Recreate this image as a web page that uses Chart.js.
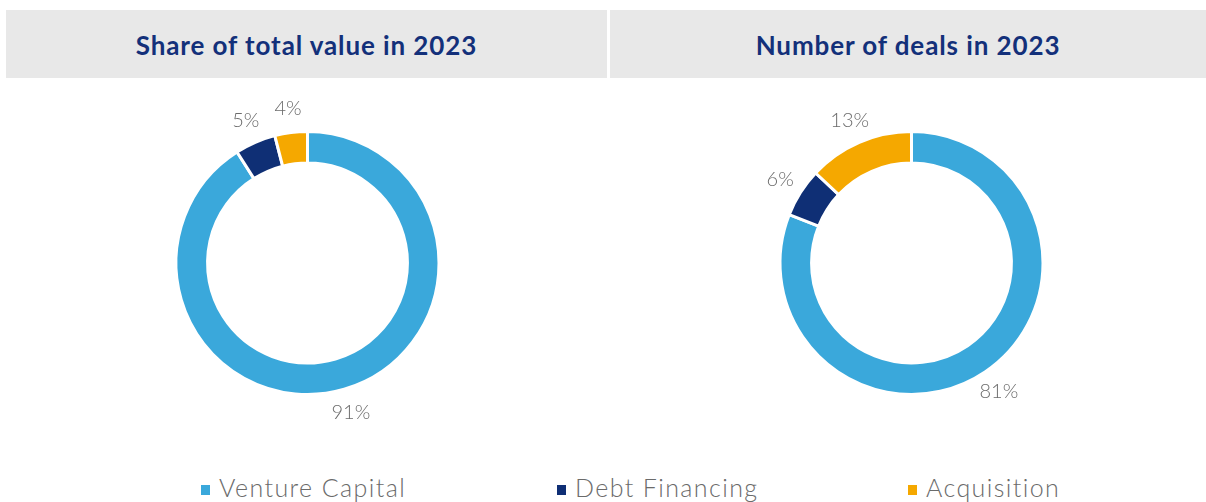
<!DOCTYPE html>
<html lang="en">
<head>
    <meta charset="UTF-8">
    <title>Share of value and deals 2023</title>
    <script src="https://cdn.jsdelivr.net/npm/chart.js"></script>
    <style>
        html, body { margin: 0; padding: 0; background: #fff; width: 1206px; height: 502px; overflow: hidden; }
        body { position: relative; font-family: Lato, "Open Sans", sans-serif; }
        .head { position: absolute; top: 10px; height: 68px; background: #e8e8e8; color: #13307a;
                font-weight: 700; font-size: 26px; letter-spacing: 0.9px; line-height: 70px; text-align: center; }
        #h1 { left: 6px; width: 601px; }
        #h2 { left: 610px; width: 596px; }
        canvas { position: absolute; top: 93px; }
        #c1 { left: 7px; }
        #c2 { left: 611px; }
        #legend { position: absolute; top: 472px; left: 0; width: 1206px; height: 40px; }
        .item { position: absolute; top: 0; font-size: 25px; font-weight: 300; letter-spacing: 1.4px; color: #6b6b6b; white-space: nowrap; }
        .item span { display: inline-block; width: 9px; height: 10px; margin-right: 9px; vertical-align: 2px; }
    </style>
</head>
<body>
    <div class="head" id="h1">Share of total value in 2023</div>
    <div class="head" id="h2">Number of deals in 2023</div>
    <canvas id="c1" width="601" height="340"></canvas>
    <canvas id="c2" width="601" height="340"></canvas>
    <div id="legend"></div>

    <script>
        const categories = ['Venture Capital', 'Debt Financing', 'Acquisition'];
        const valueShare = [91, 5, 4];
        const dealShare = [81, 6, 13];
        const colors = ['#3aa8db', '#0f2f75', '#f5a800'];
        const legendX = [201, 557, 908];

        // labels drawn outside each slice
        const outsideLabels = {
            id: 'outsideLabels',
            afterDatasetsDraw(chart) {
                const ctx = chart.ctx;
                const meta = chart.getDatasetMeta(0);
                const data = chart.data.datasets[0].data;
                ctx.save();
                ctx.font = '300 20px Lato, "Open Sans", sans-serif';
                ctx.fillStyle = '#6b6b6b';
                ctx.textAlign = 'center';
                ctx.textBaseline = 'middle';
                meta.data.forEach((arc, i) => {
                    const p = arc.getProps(['x', 'y', 'startAngle', 'endAngle', 'outerRadius'], true);
                    const mid = (p.startAngle + p.endAngle) / 2;
                    const r = p.outerRadius + 24;
                    ctx.fillText(data[i] + '%', p.x + Math.cos(mid) * r, p.y + Math.sin(mid) * r);
                });
                ctx.restore();
            }
        };

        function makeChart(id, values) {
            new Chart(document.getElementById(id), {
                type: 'doughnut',
                data: {
                    labels: categories,
                    datasets: [{
                        data: values,
                        backgroundColor: colors,
                        borderColor: '#ffffff',
                        borderWidth: 3
                    }]
                },
                options: {
                    responsive: false,
                    animation: false,
                    cutout: '76%',
                    layout: { padding: { top: 37, bottom: 37 } },
                    plugins: {
                        legend: { display: false },
                        tooltip: { enabled: false }
                    }
                },
                plugins: [outsideLabels]
            });
        }

        makeChart('c1', valueShare);
        makeChart('c2', dealShare);

        const legend = document.getElementById('legend');
        categories.forEach((name, i) => {
            const el = document.createElement('div');
            el.className = 'item';
            el.style.left = legendX[i] + 'px';
            el.innerHTML = '<span style="background:' + colors[i] + '"></span>' + name;
            legend.appendChild(el);
        });
    </script>
</body>
</html>
